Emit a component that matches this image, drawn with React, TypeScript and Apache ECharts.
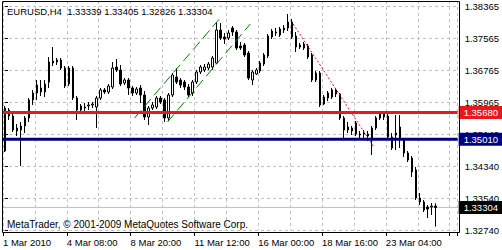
import React, { useEffect, useRef } from "react";
import * as echarts from "echarts";

// ---- data (EURUSD H4, March 2010) ----
const opens = [
  1.34715, 1.3574, 1.3559, 1.3529, 1.3524, 1.3534, 1.3554, 1.3599, 1.36165, 1.3629,
  1.3619, 1.3644, 1.36965, 1.3694, 1.3699, 1.3679, 1.3639, 1.3679, 1.3604, 1.3584,
  1.3579, 1.3584, 1.35865, 1.35815, 1.3604, 1.3624, 1.3619, 1.36315, 1.36815, 1.3674,
  1.36415, 1.3649, 1.3629, 1.36165, 1.3629, 1.36115, 1.35565, 1.3579, 1.35815, 1.3604,
  1.3599, 1.3554, 1.36115, 1.36565, 1.3649, 1.3644, 1.36315, 1.36165, 1.3644, 1.3669,
  1.3674, 1.3679, 1.36815, 1.36915, 1.3774, 1.37565, 1.3754, 1.3779, 1.3769, 1.3734,
  1.37365, 1.37165, 1.3649, 1.3664, 1.36715, 1.3689, 1.3709, 1.37565, 1.3769, 1.37615,
  1.3774, 1.3779, 1.3794, 1.3759, 1.37315, 1.3739, 1.3734, 1.37115, 1.3649, 1.36665,
  1.3589, 1.3604, 1.36065, 1.3624, 1.3614, 1.3554, 1.3524, 1.3529, 1.35415, 1.3514,
  1.3514, 1.3509, 1.3499, 1.3529, 1.3554, 1.35665, 1.3559, 1.35065, 1.35115, 1.35315,
  1.3499, 1.34665, 1.3454, 1.3424, 1.3354, 1.3344, 1.33315, 1.33315, 1.33339,
];
const closes = [
  1.3579, 1.3559, 1.3524, 1.35215, 1.3534, 1.3554, 1.3599, 1.36165, 1.36365, 1.3619,
  1.3639, 1.3694, 1.36915, 1.3699, 1.3679, 1.3634, 1.3679, 1.3604, 1.3574, 1.3574,
  1.35815, 1.35865, 1.3589, 1.3604, 1.3624, 1.3619, 1.3634, 1.3679, 1.3674, 1.3639,
  1.3649, 1.3629, 1.36165, 1.36265, 1.36115, 1.35565, 1.3579, 1.35865, 1.3604, 1.3594,
  1.3554, 1.36115, 1.36615, 1.3644, 1.36365, 1.36315, 1.36115, 1.3644, 1.3669, 1.36815,
  1.36815, 1.3689, 1.3704, 1.3774, 1.3754, 1.37515, 1.37665, 1.3769, 1.3729, 1.3729,
  1.37115, 1.3654, 1.3669, 1.3674, 1.36915, 1.37115, 1.3759, 1.37715, 1.37665, 1.37765,
  1.3779, 1.3794, 1.37565, 1.37315, 1.37365, 1.3729, 1.37065, 1.3649, 1.36665, 1.35865,
  1.36065, 1.36165, 1.3624, 1.3614, 1.3554, 1.3524, 1.35315, 1.35215, 1.3514, 1.35115,
  1.35165, 1.3514, 1.3529, 1.3554, 1.35665, 1.35565, 1.35065, 1.3479, 1.35165, 1.3499,
  1.34665, 1.3449, 1.3419, 1.3354, 1.3344, 1.3324, 1.33265, 1.3334, 1.33304,
];
const lows = [
  1.3469, 1.3549, 1.3519, 1.3509, 1.3434, 1.35165, 1.3544, 1.35865, 1.3599, 1.3609,
  1.36065, 1.3629, 1.3684, 1.36865, 1.3674, 1.3629, 1.3634, 1.3599, 1.3549, 1.3569,
  1.3569, 1.3574, 1.3579, 1.3529, 1.3599, 1.3614, 1.3614, 1.36265, 1.3669, 1.3634,
  1.36365, 1.36115, 1.3609, 1.36115, 1.35915, 1.3549, 1.35365, 1.3574, 1.35765, 1.3589,
  1.3544, 1.35465, 1.36065, 1.3639, 1.3629, 1.3624, 1.36065, 1.3609, 1.3639, 1.3664,
  1.3669, 1.3674, 1.3674, 1.3689, 1.3749, 1.3739, 1.3749, 1.3759, 1.3724, 1.3724,
  1.37065, 1.3649, 1.36365, 1.36615, 1.36665, 1.3684, 1.3704, 1.37515, 1.3759, 1.37565,
  1.37665, 1.37715, 1.37515, 1.3719, 1.37265, 1.3724, 1.37015, 1.3644, 1.3644, 1.35815,
  1.35865, 1.35965, 1.36015, 1.36065, 1.3549, 1.3499, 1.35165, 1.35115, 1.3509, 1.3504,
  1.35015, 1.34965, 1.34615, 1.3524, 1.3549, 1.3549, 1.3504, 1.3474, 1.3474, 1.3479,
  1.34565, 1.3444, 1.34065, 1.3349, 1.33365, 1.3319, 1.3304, 1.33115, 1.32826,
];
const highs = [
  1.3584, 1.3579, 1.3564, 1.3539, 1.3544, 1.3559, 1.3604, 1.3624, 1.3649, 1.3649,
  1.3649, 1.37065, 1.37315, 1.3704, 1.3704, 1.3684, 1.3684, 1.3684, 1.3609, 1.3589,
  1.35915, 1.3594, 1.3594, 1.3609, 1.3629, 1.3629, 1.3639, 1.3694, 1.37015, 1.36865,
  1.3654, 1.3654, 1.3634, 1.36315, 1.36365, 1.36215, 1.3584, 1.3594, 1.3609, 1.3609,
  1.3604, 1.36165, 1.36665, 1.3679, 1.3654, 1.3649, 1.3639, 1.3649, 1.3674, 1.36865,
  1.3689, 1.3694, 1.3709, 1.3794, 1.37915, 1.37665, 1.3774, 1.3784, 1.3774, 1.3744,
  1.37415, 1.37215, 1.3674, 1.3679, 1.36965, 1.37165, 1.3764, 1.37765, 1.3779, 1.37815,
  1.37865, 1.3814, 1.38015, 1.3769, 1.37415, 1.3744, 1.3739, 1.37165, 1.36715, 1.36715,
  1.36115, 1.36215, 1.3629, 1.3629, 1.36165, 1.3559, 1.3544, 1.3534, 1.35465, 1.35215,
  1.3524, 1.35215, 1.3534, 1.3559, 1.35715, 1.35715, 1.35665, 1.35165, 1.35615, 1.35615,
  1.3504, 1.34715, 1.3459, 1.34315, 1.33665, 1.3349, 1.33365, 1.33415, 1.33405,
];

const barSlots = 114; // bars visible incl. empty chart shift on the right
const categories = Array.from({ length: barSlots }, (_, i) => String(i));

const xTickLabels = [
  "1 Mar 2010",
  "4 Mar 08:00",
  "8 Mar 20:00",
  "11 Mar 12:00",
  "16 Mar 00:00",
  "18 Mar 16:00",
  "23 Mar 04:00",
];
const yTickLabels = [
  "1.32740",
  "1.33540",
  "1.34340",
  "1.35140",
  "1.35965",
  "1.36765",
  "1.37565",
  "1.38365",
];

const resistance = 1.3568;
const support = 1.3501;
const bidPrice = 1.33304;
const titleText = "EURUSD,H4  1.33339 1.33405 1.32826 1.33304";
const watermark = "MetaTrader, \u00A9 2001-2009 MetaQuotes Software Corp.";

// trend objects: [barIndex, price]
const channelUpper = [
  [32.5, 1.3554],
  [53.75, 1.38015],
];
const channelLower = [
  [40.75, 1.3544],
  [61.5, 1.3789],
];
const downTrend = [
  [72.25, 1.3789],
  [92.5, 1.34815],
];

const Y_MIN = 1.3274;
const Y_MAX = 1.38465;
const Y_STEP = 0.008;
const FONT = "'Liberation Sans', Arial, sans-serif";

export default function App() {
  const ref = useRef<HTMLDivElement>(null);

  useEffect(() => {
    const chart = echarts.init(ref.current!, null, { renderer: "svg" });
    const candles = opens.map((o, i) => [o, closes[i], lows[i], highs[i]]);
    const xLeft = -0.5;
    const xRight = barSlots - 0.5;

    const lineSeries = (data: number[][], color: string, dash: number[]) => ({
      type: "line",
      xAxisIndex: 1,
      yAxisIndex: 0,
      data,
      symbol: "none",
      silent: true,
      z: 4,
      lineStyle: { color, width: 1, type: dash },
    });

    const levelSeries = (
      value: number,
      text: string,
      color: string,
      width: number,
      bg: string,
      z: number
    ) => ({
      type: "line",
      xAxisIndex: 1,
      yAxisIndex: 0,
      data: [
        [xLeft, value],
        [xRight, value],
      ],
      symbol: "none",
      silent: true,
      z,
      lineStyle: { color, width, type: "solid" },
      endLabel: {
        show: true,
        distance: 1,
        formatter: text,
        backgroundColor: bg,
        color: "#ffffff",
        fontSize: 9.5,
        fontFamily: FONT,
        padding: [2, 4, 1, 5],
        align: "left",
        verticalAlign: "middle",
      },
    });

    chart.setOption({
      animation: false,
      backgroundColor: "#ffffff",
      grid: { left: 3, top: 1, width: 456, height: 229, containLabel: false },
      xAxis: [
        {
          type: "category",
          data: categories,
          show: false,
          boundaryGap: true,
        },
        {
          type: "value",
          min: xLeft,
          max: xRight,
          interval: 8,
          axisLine: { show: false },
          axisTick: { show: false },
          axisLabel: { show: false },
          splitLine: {
            show: true,
            lineStyle: { color: "#c0c0c0", width: 1, type: [3, 3] },
          },
        },
        {
          type: "value",
          position: "bottom",
          offset: 2,
          min: xLeft,
          max: xRight,
          interval: 16,
          axisLine: { show: false },
          splitLine: { show: false },
          axisTick: { show: true, length: 4, lineStyle: { color: "#000" } },
          axisLabel: {
            show: true,
            align: "left",
            margin: 5,
            fontSize: 9.5,
            fontFamily: FONT,
            color: "#000",
            formatter: (v: number) => {
              const k = (v + 0.5) / 16;
              const r = Math.round(k);
              if (Math.abs(k - r) > 1e-6 || r < 0 || r >= xTickLabels.length) return "";
              return xTickLabels[r];
            },
          },
        },
      ],
      yAxis: [
        {
          type: "value",
          position: "right",
          min: Y_MIN,
          max: Y_MAX,
          interval: Y_STEP,
          axisLine: { show: false },
          axisTick: { show: true, length: 3, lineStyle: { color: "#000" } },
          splitLine: {
            show: true,
            lineStyle: { color: "#c0c0c0", width: 1, type: [3, 3] },
          },
          axisLabel: {
            margin: 7,
            fontSize: 9.5,
            fontFamily: FONT,
            color: "#000",
            formatter: (v: number) => {
              const k = Math.round((v - Y_MIN) / Y_STEP);
              if (k < 0 || k >= yTickLabels.length) return "";
              if (Math.abs(v - (Y_MIN + k * Y_STEP)) > 1e-6) return "";
              return yTickLabels[k];
            },
          },
        },
      ],
      graphic: [
        {
          type: "rect",
          z: 50,
          silent: true,
          shape: { x: 2.5, y: 1.5, width: 457, height: 231 },
          style: { fill: "none", stroke: "#000", lineWidth: 1 },
        },
        {
          type: "text",
          z: 50,
          silent: true,
          style: {
            x: 7,
            y: 11,
            text: titleText,
            fill: "#000",
            fontSize: 9.5,
            fontFamily: FONT,
            align: "left",
            verticalAlign: "middle",
          },
        },
        {
          type: "text",
          z: 50,
          silent: true,
          style: {
            x: 7,
            y: 224,
            text: watermark,
            fill: "#000",
            fontSize: 10,
            fontFamily: FONT,
            align: "left",
            verticalAlign: "middle",
          },
        },
      ],
      series: [
        levelSeries(bidPrice, "1.33304", "#c0c0c0", 1, "#000000", 1),
        {
          type: "candlestick",
          xAxisIndex: 0,
          yAxisIndex: 0,
          data: candles,
          barWidth: 2,
          silent: true,
          z: 3,
          itemStyle: {
            color: "#ffffff",
            color0: "#000000",
            borderColor: "#000000",
            borderColor0: "#000000",
            borderWidth: 1,
          },
        },
        levelSeries(resistance, "1.35680", "#e8191c", 3, "#e8191c", 5),
        levelSeries(support, "1.35010", "#000080", 3, "#000080", 5),
        lineSeries(channelUpper, "#008000", [10, 5]),
        lineSeries(channelLower, "#008000", [10, 5]),
        lineSeries(downTrend, "#cc1133", [2, 2]),
      ],
    });

    return () => chart.dispose();
  }, []);

  return (
    <div
      ref={ref}
      style={{
        position: "fixed",
        left: 0,
        top: 0,
        width: 502,
        height: 250,
        background: "#ffffff",
      }}
    />
  );
}
